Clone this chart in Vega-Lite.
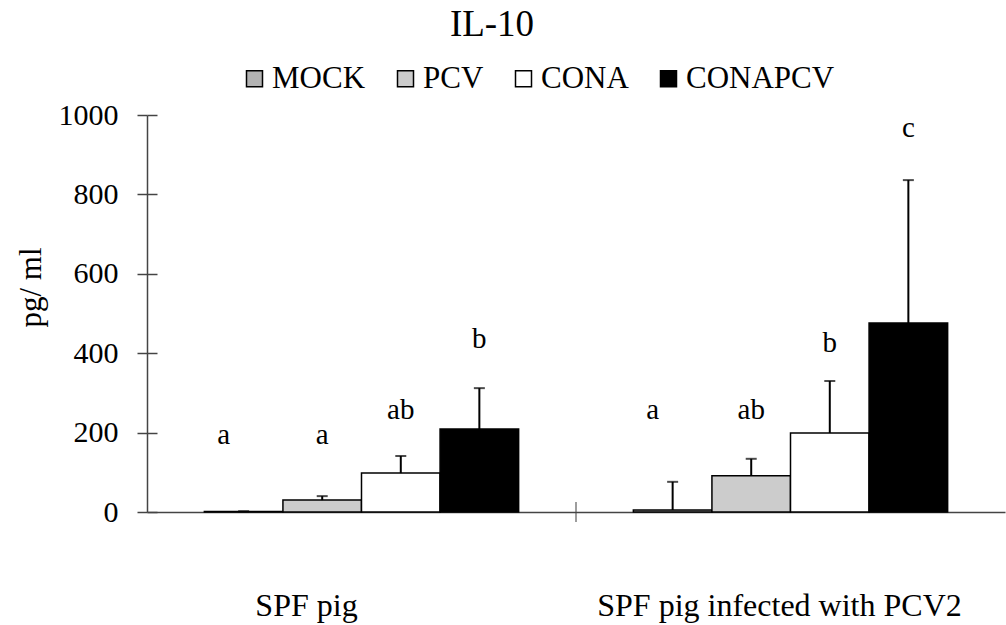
{
  "$schema": "https://vega.github.io/schema/vega-lite/v6.json",
  "width": 858,
  "height": 397,
  "autosize": {"type": "none"},
  "padding": {"left": 147, "top": 115, "right": 1, "bottom": 113},
  "background": "white",
  "title": {"text": "IL-10", "font": "Liberation Serif", "fontSize": 37, "fontWeight": "normal", "color": "black", "anchor": "middle", "dx": -84, "offset": -10, "baseline": "alphabetic"},
  "config": {
    "view": {"stroke": null},
    "axis": {"grid": false},
    "axisY": {"tickSize": 10, "labelPadding": 19,
      "labelFont": "Liberation Serif", "labelFontSize": 30, "labelColor": "black", "labelBaseline": "middle",
      "tickColor": "#444", "tickWidth": 1.5, "domainColor": "#444", "domainWidth": 1.5,
      "titleFont": "Liberation Serif", "titleFontSize": 31, "titleFontWeight": "normal", "titleColor": "black",
      "titleAngle": 270, "titleX": -116, "titleY": 172, "titleAlign": "center", "titleBaseline": "middle"}
  },
  "resolve": {"axis": {"y": "independent"}},
  "datasets": {
    "bars": [
      {"group": "SPF pig", "treat": "MOCK", "mean": 1, "upper": 2, "letter": "a", "ly": 194},
      {"group": "SPF pig", "treat": "PCV", "mean": 30, "upper": 40, "letter": "a", "ly": 194},
      {"group": "SPF pig", "treat": "CONA", "mean": 98, "upper": 141, "letter": "ab", "ly": 257},
      {"group": "SPF pig", "treat": "CONAPCV", "mean": 209, "upper": 312, "letter": "b", "ly": 436},
      {"group": "SPF pig infected with PCV2", "treat": "MOCK", "mean": 5, "upper": 76, "letter": "a", "ly": 257},
      {"group": "SPF pig infected with PCV2", "treat": "PCV", "mean": 91, "upper": 134, "letter": "ab", "ly": 257},
      {"group": "SPF pig infected with PCV2", "treat": "CONA", "mean": 199, "upper": 330, "letter": "b", "ly": 426},
      {"group": "SPF pig infected with PCV2", "treat": "CONAPCV", "mean": 476, "upper": 836, "letter": "c", "ly": 967}
    ],
    "yticks": [{"v": 0}, {"v": 200}, {"v": 400}, {"v": 600}, {"v": 800}, {"v": 1000}]
  },
  "data": {"name": "bars"},
  "encoding": {
    "x": {"field": "group", "type": "nominal", "sort": ["SPF pig", "SPF pig infected with PCV2"], "scale": {"paddingInner": 0, "paddingOuter": 0},
      "axis": {"title": null, "labelAngle": 0, "labelFont": "Liberation Serif", "labelFontSize": 32, "labelColor": "black", "labelLimit": 600, "labelOverlap": false,
        "ticks": false, "domainColor": "#444", "domainWidth": 1.5,
        "labelPadding": 78, "labelBaseline": "top",
        "labelOffset": {"condition": {"test": "datum.value === 'SPF pig'", "value": -55}, "value": -11}}}
  },
  "layer": [
    {
      "mark": {"type": "bar", "stroke": "black", "strokeWidth": 1.5},
      "encoding": {
        "xOffset": {"field": "treat", "type": "nominal", "sort": ["MOCK", "PCV", "CONA", "CONAPCV"], "scale": {"paddingInner": 0, "paddingOuter": 0.73}},
        "y": {"field": "mean", "type": "quantitative", "scale": {"domain": [0, 1000], "nice": false},
          "axis": {"title": "pg/ ml", "orient": "left", "values": [0, 200, 400, 600, 800, 1000], "format": "d"}},
        "color": {"field": "treat", "type": "nominal", "sort": ["MOCK", "PCV", "CONA", "CONAPCV"],
          "scale": {"domain": ["MOCK", "PCV", "CONA", "CONAPCV"], "range": ["#b3b3b3", "#cccccc", "#ffffff", "#000000"]},
          "legend": {"orient": "none", "legendX": 92, "legendY": -52, "direction": "horizontal", "title": null,
            "symbolType": "square", "symbolSize": 256, "symbolStrokeColor": "black", "symbolStrokeWidth": 1.5, "symbolOpacity": 1,
            "labelFont": "Liberation Serif", "labelFontSize": 31, "labelColor": "black", "labelOffset": 2, "columnPadding": 24,
            "padding": 0, "labelLimit": 300}}
      }
    },
    {
      "mark": {"type": "rule", "color": "black", "strokeWidth": 2},
      "encoding": {
        "xOffset": {"field": "treat", "type": "nominal", "sort": ["MOCK", "PCV", "CONA", "CONAPCV"]},
        "y": {"field": "mean", "type": "quantitative", "axis": null},
        "y2": {"field": "upper"}
      }
    },
    {
      "mark": {"type": "tick", "color": "black", "thickness": 2, "size": 11, "orient": "horizontal"},
      "encoding": {
        "xOffset": {"field": "treat", "type": "nominal", "sort": ["MOCK", "PCV", "CONA", "CONAPCV"]},
        "y": {"field": "upper", "type": "quantitative", "axis": null}
      }
    },
    {
      "transform": [{"filter": "datum.treat === 'MOCK'"}],
      "mark": {"type": "text", "font": "Liberation Serif", "fontSize": 29, "color": "black", "baseline": "middle", "dx": -20},
      "encoding": {
        "xOffset": {"field": "treat", "type": "nominal", "sort": ["MOCK", "PCV", "CONA", "CONAPCV"]},
        "y": {"field": "ly", "type": "quantitative", "axis": null},
        "text": {"field": "letter"}
      }
    },
    {
      "transform": [{"filter": "datum.treat !== 'MOCK'"}],
      "mark": {"type": "text", "font": "Liberation Serif", "fontSize": 29, "color": "black", "baseline": "middle"},
      "encoding": {
        "xOffset": {"field": "treat", "type": "nominal", "sort": ["MOCK", "PCV", "CONA", "CONAPCV"]},
        "y": {"field": "ly", "type": "quantitative", "axis": null},
        "text": {"field": "letter"}
      }
    },
    {
      "data": {"name": "yticks"},
      "transform": [{"filter": "datum.v === 0"}],
      "mark": {"type": "tick", "color": "#444", "thickness": 1.5, "size": 20, "orient": "vertical"},
      "encoding": {
        "x": {"datum": "SPF pig infected with PCV2", "type": "nominal", "bandPosition": 0},
        "y": {"field": "v", "type": "quantitative",
          "axis": {"orient": "left", "title": null, "labels": false, "domain": false, "tickSize": -10, "values": [0, 200, 400, 600, 800, 1000]}}
      }
    }
  ]
}
